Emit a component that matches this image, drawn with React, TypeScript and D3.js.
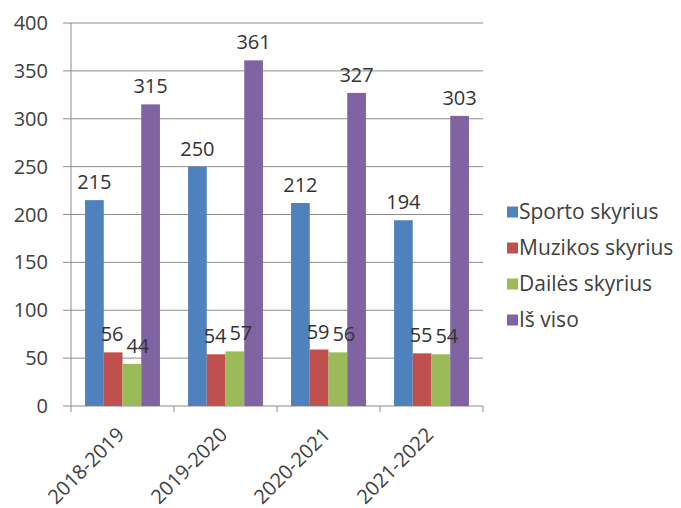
import React from "react";
import * as d3 from "d3";

const categories = ["2018-2019", "2019-2020", "2020-2021", "2021-2022"];
const seriesNames = ["Sporto skyrius", "Muzikos skyrius", "Dailės skyrius", "Iš viso"];
const sporto = [215, 250, 212, 194];
const muzikos = [56, 54, 59, 55];
const dailes = [44, 57, 56, 54];
const isViso = [315, 361, 327, 303];
const yTicks = [0, 50, 100, 150, 200, 250, 300, 350, 400];
const colors = ["#4F81BD", "#C0504D", "#9BBB59", "#8064A2"];
// small horizontal nudges of the data labels per series (as in the reference)
const labelDx = [0, -1, 6, 0];

const W = 681, H = 508;
const plot = { left: 71, right: 483, top: 23, bottom: 406 };
const font = "'Open Sans', sans-serif";
const textColor = "#404040";

export default function App() {
  const series = [sporto, muzikos, dailes, isViso];
  const x0 = d3.scaleBand<string>().domain(categories).range([plot.left, plot.right]).paddingInner(0).paddingOuter(0);
  const y = d3.scaleLinear().domain([0, 400]).range([plot.bottom, plot.top]);

  // Excel-like gap: group of 4 bars, gap = 1.5 bars
  const bw = x0.bandwidth() / 5.5;
  const groupOffset = bw * 0.75;

  return (
    <div style={{ position: "fixed", left: 0, top: 0 }}>
      <svg width={W} height={H} style={{ display: "block", background: "#fff" }} fontFamily={font}>
        {yTicks.map((t) => (
          <g key={t}>
            <line x1={plot.left - 8} x2={plot.right} y1={y(t)} y2={y(t)} stroke="#8c8c8c" strokeWidth={1} />
            <text x={48} y={y(t)} dy="0.35em" textAnchor="end" fontSize={20} fill={textColor}>{t}</text>
          </g>
        ))}
        <line x1={plot.left} x2={plot.left} y1={plot.top} y2={plot.bottom} stroke="#8c8c8c" />
        {categories.concat(["end"]).map((c, i) => {
          const xx = plot.left + i * x0.bandwidth();
          return <line key={"tk" + i} x1={xx} x2={xx} y1={plot.bottom} y2={plot.bottom + 6} stroke="#8c8c8c" />;
        })}
        {categories.map((c, ci) => (
          <g key={c}>
            {series.map((s, si) => {
              const bx = (x0(c) as number) + groupOffset + si * bw;
              return (
                <rect key={si} x={bx} y={y(s[ci])} width={bw} height={plot.bottom - y(s[ci])} fill={colors[si]} />
              );
            })}
            {series.map((s, si) => {
              const bx = (x0(c) as number) + groupOffset + si * bw;
              return (
                <text key={"l" + si} x={bx + bw / 2 + labelDx[si]} y={y(s[ci]) - 11} textAnchor="middle" fontSize={20} fill="#333">
                  {s[ci]}
                </text>
              );
            })}
            <text
              transform={`translate(${(x0(c) as number) + x0.bandwidth() / 2 + 3},${plot.bottom + 30}) rotate(-45)`}
              textAnchor="end"
              fontSize={20}
              fill={textColor}
            >
              {c}
            </text>
          </g>
        ))}
        {seriesNames.map((n, i) => (
          <g key={n} transform={`translate(507,${212 + i * 36})`}>
            <rect x={0} y={-5.5} width={11} height={11} fill={colors[i]} />
            <text x={12} y={0} dy="0.35em" fontSize={21} fill={textColor}>{n}</text>
          </g>
        ))}
      </svg>
    </div>
  );
}
